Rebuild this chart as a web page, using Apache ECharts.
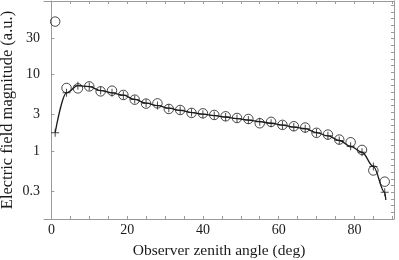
<!DOCTYPE html>
<html>
<head>
<meta charset="utf-8">
<script src="https://cdn.jsdelivr.net/npm/echarts@6/dist/echarts.min.js"></script>
<style>html,body{margin:0;padding:0;background:#fff}#c{width:399px;height:260px}</style>
</head>
<body>
<div id="c"></div>
<script>
// zenith angles (deg)
const angles = [1,4,7,10,13,16,19,22,25,28,31,34,37,40,43,46,49,52,55,58,61,64,67,70,73,76,79,82,85,88];
// open circles
const circleVals = [49.5,6.71,6.63,7.04,6.06,6.18,5.44,4.72,4.19,4.22,
                    3.57,3.46,3.17,3.13,2.98,2.86,2.72,2.64,2.32,2.42,
                    2.21,2.12,2.04,1.74,1.65,1.42,1.31,1.04,0.56,0.40];
// plus markers
const plusVals = [1.75,5.8,7.2,7.0,6.2,5.8,5.4,4.75,4.25,3.95,
                  3.65,3.42,3.2,3.05,2.92,2.8,2.67,2.55,2.43,2.32,
                  2.2,2.07,1.97,1.75,1.59,1.38,1.16,0.97,0.63,0.29];
// curve end point beyond last marker
const curveTailX = [88.3];
const curveTailY = [0.23];
// tick labels
const xLabels = [0,20,40,60,80];
const xTicks = [0,5,10,15,20,25,30,35,40,45,50,55,60,65,70,75,80,85,90];
const yLabels = [0.3,1,3,10,30];

const circleData = angles.map((a,i)=>[a,circleVals[i]]);
const plusData = angles.map((a,i)=>[a,plusVals[i]]);
const curveData = plusData.concat(curveTailX.map((a,i)=>[a,curveTailY[i]]));

const frame = '#9a9a9a';
const ink = '#1a1a1a';
const font = 'Liberation Serif';
const plusPath = 'path://M3.5,0H4.5V3.5H8V4.5H4.5V8H3.5V4.5H0V3.5H3.5Z';

const chart = echarts.init(document.getElementById('c'), null, {renderer:'canvas'});
chart.setOption({
  animation:false,
  backgroundColor:'#fff',
  grid:{left:44,right:5,top:1,bottom:41,outerBoundsMode:'none',containLabel:false},
  xAxis:[{
    type:'value',min:-1.95,max:90.45,position:'bottom',
    name:'Observer zenith angle (deg)',nameLocation:'middle',nameGap:24,nameMoveOverlap:false,
    nameTextStyle:{fontFamily:font,fontSize:15.5,color:ink},
    axisLine:{show:true,lineStyle:{color:frame,width:1}},
    axisTick:{show:true,inside:true,length:3,customValues:xTicks,lineStyle:{color:frame}},
    axisLabel:{customValues:xLabels,fontFamily:font,fontSize:14,color:ink,margin:4},
    splitLine:{show:false}
  },{
    type:'value',min:-1.95,max:90.45,position:'top',
    axisLine:{show:true,onZero:false,lineStyle:{color:frame,width:1}},
    axisTick:{show:true,inside:true,length:3,customValues:xTicks,lineStyle:{color:frame}},
    axisLabel:{show:false},splitLine:{show:false}
  }],
  yAxis:[{
    type:'log',logBase:10,min:0.13,max:92,position:'left',
    name:'Electric field magnitude (a.u.)',nameLocation:'middle',nameGap:28,nameRotate:90,nameMoveOverlap:false,
    nameTextStyle:{fontFamily:font,fontSize:16.5,color:ink},
    axisLine:{show:true,lineStyle:{color:frame,width:1}},
    axisTick:{show:true,inside:true,length:3,customValues:yLabels,lineStyle:{color:frame}},
    axisLabel:{customValues:yLabels,fontFamily:font,fontSize:14,color:ink,margin:4,
      formatter:v=>String(+v.toPrecision(3))},
    splitLine:{show:false},minorTick:{show:false}
  },{
    type:'value',min:0,max:32.65,interval:1,position:'right',
    axisLine:{show:true,onZero:false,lineStyle:{color:frame,width:1}},
    axisTick:{show:true,inside:true,length:3,lineStyle:{color:frame}},
    axisLabel:{show:false},splitLine:{show:false}
  }],
  series:[{
    type:'line',data:curveData,smooth:0.35,smoothMonotone:'x',showSymbol:false,symbol:'none',
    lineStyle:{color:ink,width:1.3},z:2
  },{
    type:'scatter',data:plusData,symbol:plusPath,symbolSize:8,
    itemStyle:{color:ink},z:3
  },{
    type:'scatter',data:circleData,symbol:'circle',symbolSize:9.5,
    itemStyle:{color:'rgba(0,0,0,0)',borderColor:ink,borderWidth:1},z:4
  }]
});
</script>
</body>
</html>
